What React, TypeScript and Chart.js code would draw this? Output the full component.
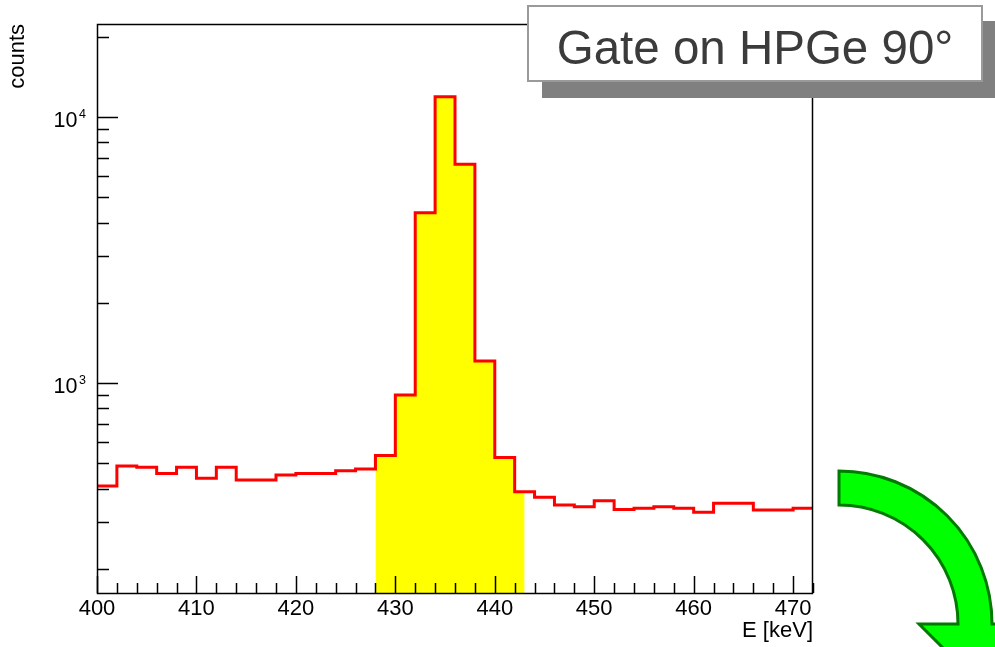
import React, { useEffect, useRef } from 'react';
import { Chart, registerables } from 'chart.js';

Chart.register(...registerables);

// ---- data ----
const binLowEdges = [400, 402, 404, 406, 408, 410, 412, 414, 416, 418, 420, 422, 424, 426, 428, 430, 432, 434, 436, 438, 440, 442, 444, 446, 448, 450, 452, 454, 456, 458, 460, 462, 464, 466, 468, 470];
const binCounts = [409, 486, 481, 456, 481, 437, 481, 431, 431, 450, 456, 456, 467, 474, 532, 899, 4355, 11890, 6620, 1207, 523, 389, 371, 347, 342, 360, 334, 337, 342, 337, 326, 352, 352, 332, 332, 337];
const binWidth = 2;
const gateLow = 428;
const gateHigh = 443;
const xMin = 400;
const xMax = 472;
const yMin = 162;
const yMax = 22300;
const xTickStep = 10;
const xMinorStep = 2;
const yMajorTicks = [1000, 10000];
const yTickBases = ['10', '10'];
const yTickExponents = ['3', '4'];
const yMinorTicks = [200, 300, 400, 500, 600, 700, 800, 900, 2000, 3000, 4000, 5000, 6000, 7000, 8000, 9000, 20000];
const xTitle = 'E [keV]';
const yTitle = 'counts';
const boxTitle = 'Gate on HPGe 90\u00B0';

const FONT = '"Liberation Sans", Arial, Helvetica, sans-serif';

// histogram outline points (lower edges + closing right edge)
const histPoints = binLowEdges.map((e, i) => ({ x: e, y: binCounts[i] }));
histPoints.push({ x: binLowEdges[binLowEdges.length - 1] + binWidth, y: binCounts[binCounts.length - 1] });

// gate fill points
const gatePoints: { x: number; y: number }[] = [];
binLowEdges.forEach((e, i) => {
  if (e >= gateLow && e < gateHigh) gatePoints.push({ x: e, y: binCounts[i] });
});
{
  const idx = binLowEdges.findIndex((e) => gateHigh >= e && gateHigh < e + binWidth);
  gatePoints.push({ x: gateHigh, y: binCounts[idx] });
}

const decorPlugin = {
  id: 'rootDecor',
  afterDatasetsDraw(chart: any) {
    const { ctx, chartArea: a, scales } = chart;
    const x = scales.x;
    const y = scales.y;
    ctx.save();
    ctx.strokeStyle = '#000';
    ctx.lineWidth = 1.5;
    ctx.beginPath();
    for (let v = xMin; v <= xMax + 1e-9; v += xMinorStep) {
      const px = Math.round(x.getPixelForValue(v)) + 0.5;
      const major = v % xTickStep === 0;
      ctx.moveTo(px, a.bottom);
      ctx.lineTo(px, a.bottom - (major ? 17 : 10));
    }
    yMajorTicks.forEach((v) => {
      const py = Math.round(y.getPixelForValue(v)) + 0.5;
      ctx.moveTo(a.left, py);
      ctx.lineTo(a.left + 21, py);
    });
    yMinorTicks.forEach((v) => {
      const py = Math.round(y.getPixelForValue(v)) + 0.5;
      ctx.moveTo(a.left, py);
      ctx.lineTo(a.left + 12, py);
    });
    ctx.stroke();
    ctx.lineWidth = 1.5;
    ctx.strokeRect(Math.round(a.left) + 0.5, Math.round(a.top) + 0.5, Math.round(a.right - a.left) - 1, Math.round(a.bottom - a.top));

    // y tick labels with superscript exponent
    ctx.fillStyle = '#000';
    yMajorTicks.forEach((v, i) => {
      const py = y.getPixelForValue(v);
      ctx.font = `21.5px ${FONT}`;
      ctx.textAlign = 'right';
      ctx.textBaseline = 'alphabetic';
      ctx.fillText(yTickBases[i], a.left - 19.5, py + 10);
      ctx.font = `12.5px ${FONT}`;
      ctx.textAlign = 'left';
      ctx.fillText(yTickExponents[i], a.left - 18, py + 1);
    });
    ctx.restore();
  },
  afterDraw(chart: any) {
    const { ctx } = chart;
    ctx.save();
    // title box with shadow
    const bx = 527, by = 5, bw = 456, bh = 77;
    ctx.fillStyle = '#808080';
    ctx.fillRect(bx + 15, by + 16, bw, bh);
    ctx.fillStyle = '#ffffff';
    ctx.fillRect(bx, by, bw, bh);
    ctx.strokeStyle = '#9a9a9a';
    ctx.lineWidth = 2;
    ctx.strokeRect(bx + 1, by + 1, bw - 2, bh - 2);
    ctx.fillStyle = '#3b3b3b';
    ctx.font = `47.5px ${FONT}`;
    ctx.textAlign = 'center';
    ctx.textBaseline = 'alphabetic';
    ctx.fillText(boxTitle, bx + bw / 2, 63.5);

    // green curved arrow
    const cx = 839, cy = 624, R = 153, r = 119;
    const mid = cx + (R + r) / 2;
    const wing = 39;
    ctx.beginPath();
    ctx.moveTo(cx, cy - R);
    ctx.arc(cx, cy, R, -Math.PI / 2, 0, false);
    ctx.lineTo(cx + R + wing, cy);
    ctx.lineTo(mid, cy + (R - r) / 2 + wing);
    ctx.lineTo(cx + r - wing, cy);
    ctx.lineTo(cx + r, cy);
    ctx.arc(cx, cy, r, 0, -Math.PI / 2, true);
    ctx.closePath();
    ctx.fillStyle = '#00ff00';
    ctx.fill();
    ctx.strokeStyle = '#007a00';
    ctx.lineWidth = 3;
    ctx.lineJoin = 'miter';
    ctx.stroke();
    ctx.restore();
  },
};

export default function App() {
  const canvasRef = useRef<HTMLCanvasElement | null>(null);

  useEffect(() => {
    if (!canvasRef.current) return;
    const chart = new Chart(canvasRef.current, {
      type: 'line',
      data: {
        datasets: [
          {
            data: histPoints,
            borderColor: '#ff0000',
            borderWidth: 3,
            stepped: 'before',
            pointRadius: 0,
            fill: false,
          },
          {
            data: gatePoints,
            borderWidth: 0,
            borderColor: 'rgba(0,0,0,0)',
            backgroundColor: '#ffff00',
            stepped: 'before',
            pointRadius: 0,
            fill: 'start',
          },
        ],
      },
      options: {
        animation: false,
        responsive: true,
        maintainAspectRatio: false,
        layout: { padding: { top: 24, right: 182, left: 0, bottom: 0 } },
        plugins: { legend: { display: false }, tooltip: { enabled: false } },
        scales: {
          x: {
            type: 'linear',
            min: xMin,
            max: xMax,
            grid: { display: false, drawTicks: false },
            border: { display: false },
            ticks: {
              stepSize: xTickStep,
              includeBounds: false,
              maxRotation: 0,
              autoSkip: false,
              padding: 3,
              color: '#000',
              font: { family: FONT, size: 22 },
            },
            title: {
              display: true,
              text: xTitle,
              align: 'end',
              color: '#000',
              font: { family: FONT, size: 22 },
              padding: { top: 0, bottom: 3 },
            },
            afterFit: (s: any) => {
              s.height = 54;
            },
          },
          y: {
            type: 'logarithmic',
            min: yMin,
            max: yMax,
            grid: { display: false, drawTicks: false },
            border: { display: false },
            ticks: { display: false },
            title: {
              display: true,
              text: yTitle,
              align: 'end',
              color: '#000',
              font: { family: FONT, size: 22 },
              padding: { top: 5, bottom: 0 },
            },
            afterFit: (s: any) => {
              s.width = 97;
            },
          },
        },
      },
      plugins: [decorPlugin],
    } as any);
    return () => chart.destroy();
  }, []);

  return (
    <div style={{ position: 'absolute', left: 0, top: 0, width: 995, height: 647, background: '#fff' }}>
      <canvas ref={canvasRef} />
    </div>
  );
}
